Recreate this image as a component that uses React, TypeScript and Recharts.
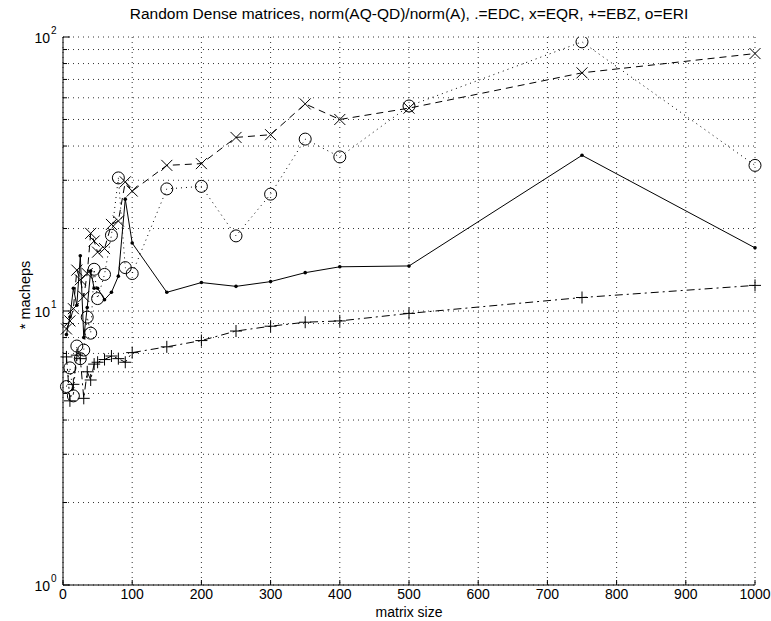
import React from "react";
import { LineChart, Line, XAxis, YAxis, CartesianGrid } from "recharts";

// matrix sizes and error measures (* macheps)
const sizes = [5, 10, 15, 20, 25, 30, 35, 40, 45, 50, 60, 70, 80, 90, 100, 150, 200, 250, 300, 350, 400, 500, 750, 1000];
const edc = [8.2, 9.5, 12.1, 10.5, 15.9, 8.0, 10.3, 14.0, 12.1, 12.1, 11.0, 11.7, 13.4, 25.6, 17.7, 11.7, 12.7, 12.3, 12.8, 13.8, 14.5, 14.6, 37, 17];
const eqr = [8.6, 9.2, 10.2, 14.1, 13.0, 11.3, 13.7, 19.2, 18.0, 16.4, 16.9, 20.7, 21.3, 29.6, 27.4, 34, 34.5, 43, 44, 57, 50, 55, 74, 87];
const ebz = [6.8, 4.7, 5.4, 6.9, 6.7, 4.8, 6.0, 5.6, 6.4, 6.5, 6.65, 6.85, 6.7, 6.5, 7.05, 7.4, 7.8, 8.45, 8.8, 9.1, 9.2, 9.8, 11.2, 12.4];
const eri = [5.3, 6.2, 4.9, 7.45, 6.7, 7.2, 9.5, 8.3, 14.2, 11.1, 13.6, 18.9, 30.6, 14.4, 13.7, 27.9, 28.5, 18.8, 26.7, 42.4, 36.5, 56, 96, 34];

const xTicks = [0, 100, 200, 300, 400, 500, 600, 700, 800, 900, 1000];
const yTicks = [1, 2, 3, 4, 5, 6, 7, 8, 9, 10, 20, 30, 40, 50, 60, 70, 80, 90, 100];
const yExp: Record<number, string> = { 1: "0", 10: "1", 100: "2" };

const title = "Random Dense matrices, norm(AQ-QD)/norm(A), .=EDC, x=EQR, +=EBZ, o=ERI";

const data = sizes.map((n, i) => ({ n, edc: edc[i], eqr: eqr[i], ebz: ebz[i], eri: eri[i] }));

const FONT = "'Liberation Sans', Arial, Helvetica, sans-serif";
const W = 771;
const H = 621;
const TICK = 5;
const PLOT_L = 63;
const PLOT_R = 755;
const PLOT_T = 37;
const PLOT_B = 585;

const DotMark = (p: any) => {
  if (p.cx == null || p.cy == null) return <g key={`d${p.index}`} />;
  return <circle key={`d${p.index}`} cx={p.cx} cy={p.cy} r={1.8} fill="#000" stroke="none" />;
};
const XMark = (p: any) => {
  if (p.cx == null || p.cy == null) return <g key={`x${p.index}`} />;
  const r = 5.5;
  const { cx, cy } = p;
  return (
    <path
      key={`x${p.index}`}
      d={`M${cx - r},${cy - r}L${cx + r},${cy + r}M${cx - r},${cy + r}L${cx + r},${cy - r}`}
      stroke="#000"
      strokeWidth={1}
      fill="none"
    />
  );
};
const PlusMark = (p: any) => {
  if (p.cx == null || p.cy == null) return <g key={`p${p.index}`} />;
  const r = 6;
  const { cx, cy } = p;
  return (
    <path key={`p${p.index}`} d={`M${cx - r},${cy}L${cx + r},${cy}M${cx},${cy - r}L${cx},${cy + r}`} stroke="#000" strokeWidth={1} fill="none" />
  );
};
const OMark = (p: any) => {
  if (p.cx == null || p.cy == null) return <g key={`o${p.index}`} />;
  return <circle key={`o${p.index}`} cx={p.cx} cy={p.cy} r={6} fill="none" stroke="#000" strokeWidth={1} />;
};

const BottomTick = (p: any) => (
  <g>
    <line x1={p.x} y1={p.y} x2={p.x} y2={p.y - TICK} stroke="#000" />
    <text x={p.x} y={p.y + 14} textAnchor="middle" fontSize={14} fontFamily={FONT} fill="#000">
      {p.payload.value}
    </text>
  </g>
);
const TopTick = (p: any) => <line x1={p.x} y1={p.y} x2={p.x} y2={p.y + TICK} stroke="#000" />;
const LeftTick = (p: any) => {
  const v = p.payload.value;
  const e = yExp[v];
  const major = e !== undefined;
  return (
    <g>
      <line x1={p.x} y1={p.y} x2={p.x + (major ? TICK + 2 : TICK - 1)} y2={p.y} stroke="#000" />
      {major && (
        <text x={p.x - 13} y={p.y + 6} textAnchor="end" fontSize={14} fontFamily={FONT} fill="#000">
          10
        </text>
      )}
      {major && (
        <text x={p.x - 12} y={p.y - 3} textAnchor="start" fontSize={10} fontFamily={FONT} fill="#000">
          {e}
        </text>
      )}
    </g>
  );
};
const RightTick = (p: any) => {
  const major = yExp[p.payload.value] !== undefined;
  return <line x1={p.x} y1={p.y} x2={p.x - (major ? TICK + 2 : TICK - 1)} y2={p.y} stroke="#000" />;
};

export default function App() {
  const cx = (PLOT_L + PLOT_R) / 2;
  const labelY = 295;
  return (
    <div style={{ position: "absolute", left: 0, top: 0, width: W, height: H, background: "#fff" }}>
      <LineChart
        width={W}
        height={H}
        data={data}
        margin={{ top: PLOT_T, right: W - PLOT_R, bottom: 0, left: 0 }}
      >
        <CartesianGrid stroke="#333" strokeDasharray="1 4" strokeWidth={1} />
        <XAxis
          dataKey="n"
          type="number"
          domain={[0, 1000]}
          ticks={xTicks}
          height={H - PLOT_B}
          tickSize={0}
          tickMargin={0}
          tickLine={false}
          axisLine={{ stroke: "#000" }}
          tick={BottomTick}
          interval={0}
        />
        <XAxis
          xAxisId="top"
          orientation="top"
          type="number"
          domain={[0, 1000]}
          ticks={xTicks}
          height={0}
          tickSize={0}
          tickMargin={0}
          tickLine={false}
          axisLine={{ stroke: "#000" }}
          tick={TopTick}
          interval={0}
        />
        <YAxis
          type="number"
          scale="log"
          domain={[1, 100]}
          allowDataOverflow
          ticks={yTicks}
          width={PLOT_L}
          tickSize={0}
          tickMargin={0}
          tickLine={false}
          axisLine={{ stroke: "#000" }}
          tick={LeftTick}
          interval={0}
        />
        <YAxis
          yAxisId="right"
          orientation="right"
          type="number"
          scale="log"
          domain={[1, 100]}
          allowDataOverflow
          ticks={yTicks}
          width={0}
          tickSize={0}
          tickMargin={0}
          tickLine={false}
          axisLine={{ stroke: "#000" }}
          tick={RightTick}
          interval={0}
        />
        <Line dataKey="edc" stroke="#000" strokeWidth={1} dot={DotMark} isAnimationActive={false} />
        <Line dataKey="eqr" stroke="#000" strokeWidth={1} strokeDasharray="7 5" dot={XMark} isAnimationActive={false} />
        <Line dataKey="ebz" stroke="#000" strokeWidth={1} strokeDasharray="8 4 2 4" dot={PlusMark} isAnimationActive={false} />
        <Line dataKey="eri" stroke="#000" strokeWidth={1} strokeDasharray="1 4" dot={OMark} isAnimationActive={false} />
      </LineChart>
      <svg width={W} height={H} style={{ position: "absolute", left: 0, top: 0, pointerEvents: "none" }}>
        <text x={cx} y={19} textAnchor="middle" fontSize={15.5} fontFamily={FONT} fill="#000">
          {title}
        </text>
        <text x={cx} y={617} textAnchor="middle" fontSize={14} fontFamily={FONT} fill="#000">
          matrix size
        </text>
        <text x={30} y={labelY} transform={`rotate(-90 30 ${labelY})`} textAnchor="middle" fontSize={14.5} fontFamily={FONT} fill="#000">
          * macheps
        </text>
      </svg>
    </div>
  );
}
